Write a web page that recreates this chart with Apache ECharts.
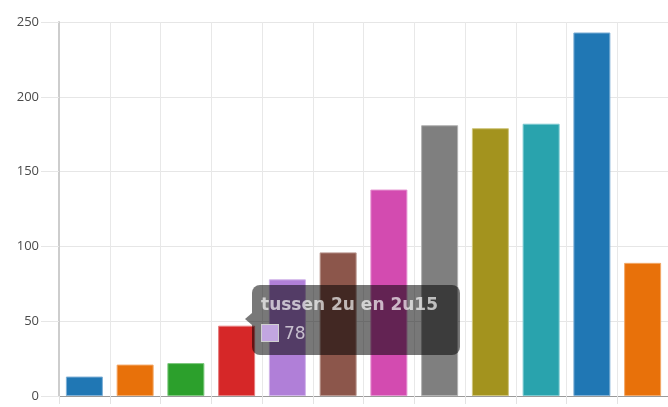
<!DOCTYPE html>
<html>
<head>
<meta charset="utf-8">
<script src="https://cdn.jsdelivr.net/npm/echarts@6/dist/echarts.min.js"></script>
<style>
html,body{margin:0;padding:0;background:#fff;}
#chart{width:668px;height:407px;}
</style>
</head>
<body>
<div id="chart"></div>
<script>
var categories = [
  'tussen 1u en 1u15','tussen 1u15 en 1u30','tussen 1u30 en 1u45','tussen 1u45 en 2u',
  'tussen 2u en 2u15','tussen 2u15 en 2u30','tussen 2u30 en 2u45','tussen 2u45 en 3u',
  'tussen 3u en 3u15','tussen 3u15 en 3u30','tussen 3u30 en 3u45','tussen 3u45 en 4u'
];
var values = [13, 21, 22, 47, 78, 96, 138, 181, 179, 182, 243, 89];
var yTicks = [0, 50, 100, 150, 200, 250];
var palette = ['#2077b4','#e8710a','#2ca02c','#d62728','#b07fd8','#8c564b','#d34bb0','#7f7f7f','#a3931e','#29a3ad','#2077b4','#e8710a'];
var borderPalette = ['#7fb0d6','#f3a867','#7ec87e','#e67d7e','#d2b6ea','#b9968f','#e592d0','#b2b2b2','#cfc47a','#7ccad0','#7fb0d6','#f3a867'];
var highlightIndex = 4;

var chart = echarts.init(document.getElementById('chart'), null, {renderer:'canvas'});
var option = {
  animation: false,
  grid: {left: 59, right: -3, top: 22, bottom: 11, containLabel: false},
  tooltip: {
    trigger: 'item',
    alwaysShowContent: true,
    showDelay: 0,
    transitionDuration: 0,
    backgroundColor: 'rgba(0,0,0,0.53)',
    borderWidth: 0,
    padding: 0,
    extraCssText: 'border-radius:8px;box-shadow:none;',
    position: function () { return [252, 285]; },
    formatter: function (p) {
      return '<div style="position:relative;width:190px;height:52px;padding:9px;font-family:\'DejaVu Sans\',sans-serif;color:rgba(255,255,255,0.67);">' +
        '<div style="position:absolute;left:-7px;top:28px;width:0;height:0;border-top:6px solid transparent;border-bottom:6px solid transparent;border-right:7px solid rgba(0,0,0,0.53);"></div>' +
        '<div style="font-weight:bold;font-size:17px;line-height:20px;white-space:nowrap;">' + p.name + '</div>' +
        '<div style="margin-top:9px;height:20px;line-height:20px;font-size:17px;white-space:nowrap;">' +
        '<span style="display:inline-block;vertical-align:top;width:16px;height:16px;margin-top:1px;background:#c2a6e0;border:1px solid #cfcfcf;"></span>' +
        '<span style="display:inline-block;vertical-align:top;margin-left:5px;">' + p.value + '</span></div>' +
        '</div>';
    }
  },
  xAxis: {
    type: 'category',
    data: categories,
    boundaryGap: true,
    axisLine: {show: true, lineStyle: {color: '#9a9a9a', width: 1}},
    axisTick: {show: true, interval: 0, length: 8, alignWithLabel: false, lineStyle: {color: '#e3e3e3'}},
    axisLabel: {show: false, interval: 0},
    splitLine: {show: true, interval: 0, lineStyle: {color: '#e8e8e8', width: 1}}
  },
  yAxis: {
    type: 'value',
    min: 0,
    max: 250,
    interval: 50,
    axisLine: {show: true, lineStyle: {color: '#cdcdcd', width: 2}},
    axisTick: {show: true, length: 18, lineStyle: {color: '#e6e6e6'}},
    axisLabel: {
      margin: 20,
      color: '#4a4a4a',
      fontSize: 13,
      fontFamily: "'Open Sans','Noto Sans',sans-serif",
      formatter: function (v) { return yTicks.indexOf(v) >= 0 ? String(v) : ''; }
    },
    splitLine: {show: true, lineStyle: {color: '#e6e6e6', width: 1}}
  },
  series: [{
    type: 'bar',
    barWidth: 37,
    data: values.map(function (v, i) {
      return {value: v, itemStyle: {color: palette[i], borderColor: borderPalette[i], borderWidth: 1}};
    }),
    emphasis: {disabled: true}
  }]
};
chart.setOption(option);
chart.dispatchAction({type: 'showTip', seriesIndex: 0, dataIndex: highlightIndex});
</script>
</body>
</html>
